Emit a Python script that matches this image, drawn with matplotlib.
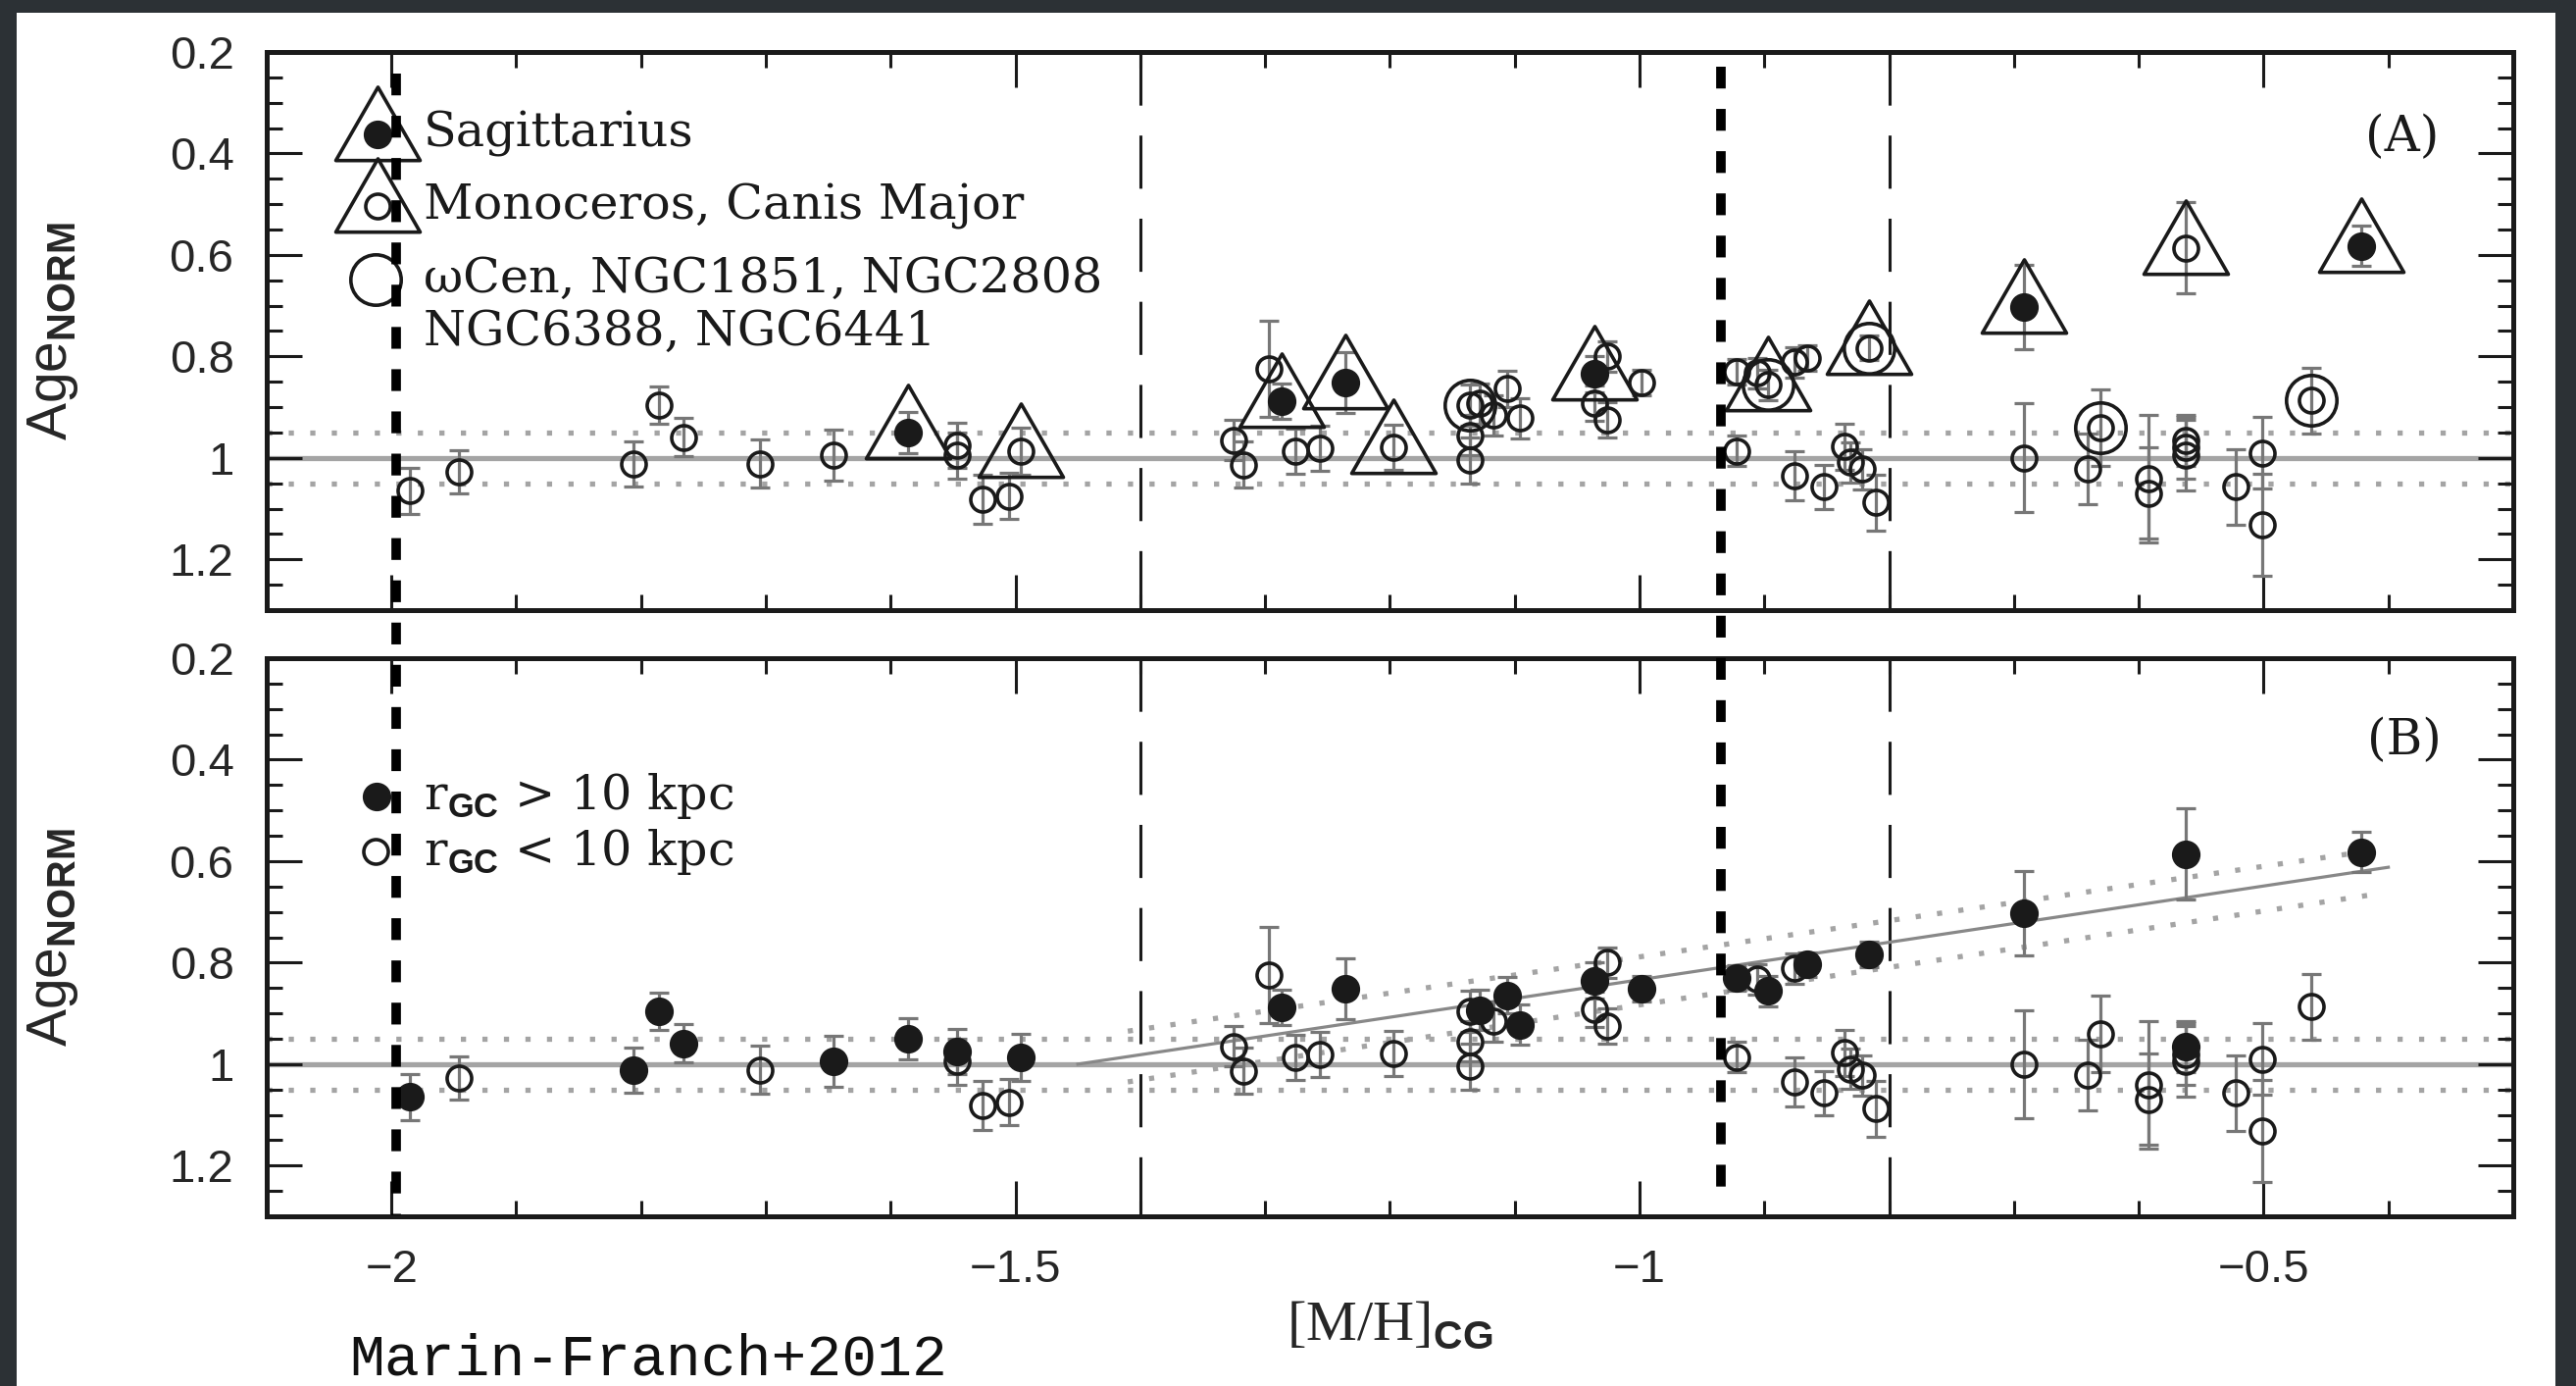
import matplotlib
matplotlib.use('Agg')
import matplotlib.pyplot as plt
import matplotlib.transforms as mtransforms
from matplotlib.path import Path
from matplotlib.patches import Rectangle
from matplotlib.lines import Line2D
import numpy as np

plt.rcParams['font.family'] = 'Liberation Sans'
plt.rcParams['mathtext.fontset'] = 'custom'
plt.rcParams['mathtext.sf'] = 'Liberation Sans:bold'
plt.rcParams['mathtext.rm'] = 'DejaVu Serif'
plt.rcParams['lines.scale_dashes'] = False

# globular clusters: metallicity, normalised age, age error
mh = [-1.985, -1.946, -1.806, -1.786, -1.766, -1.705, -1.646, -1.586, -1.547, -1.547, -1.526, -1.505, -1.496,
      -1.325, -1.317, -1.297, -1.287, -1.276, -1.256, -1.236, -1.197,
      -1.136, -1.136, -1.136, -1.128, -1.117, -1.106, -1.096,
      -1.036, -1.026, -1.036, -1.026, -0.998,
      -0.922, -0.922, -0.906, -0.897, -0.876, -0.866, -0.816,
      -0.876, -0.852, -0.836, -0.831, -0.822, -0.811,
      -0.692, -0.692, -0.641, -0.631, -0.592, -0.592, -0.562, -0.562, -0.562, -0.562,
      -0.522, -0.501, -0.501, -0.462, -0.422]
age = [1.065, 1.027, 1.012, 0.896, 0.959, 1.011, 0.995, 0.950, 0.975, 0.995, 1.081, 1.075, 0.987,
       0.965, 1.013, 0.825, 0.888, 0.987, 0.981, 0.851, 0.979,
       0.896, 0.955, 1.005, 0.893, 0.916, 0.864, 0.922,
       0.835, 0.800, 0.892, 0.925, 0.851,
       0.830, 0.986, 0.833, 0.856, 0.811, 0.804, 0.783,
       1.035, 1.057, 0.978, 1.009, 1.022, 1.088,
       0.703, 1.000, 1.022, 0.940, 1.041, 1.069, 0.586, 0.965, 0.980, 0.995,
       1.057, 0.990, 1.132, 0.887, 0.582]
err = [0.045, 0.042, 0.045, 0.037, 0.038, 0.047, 0.050, 0.040, 0.045, 0.045, 0.048, 0.046, 0.047,
       0.040, 0.045, 0.095, 0.035, 0.045, 0.045, 0.060, 0.045,
       0.040, 0.040, 0.045, 0.040, 0.040, 0.035, 0.040,
       0.035, 0.030, 0.035, 0.035, 0.025,
       0.025, 0.030, 0.030, 0.030, 0.030, 0.025, 0.025,
       0.049, 0.044, 0.045, 0.040, 0.040, 0.055,
       0.083, 0.107, 0.070, 0.075, 0.125, 0.090, 0.090, 0.050, 0.060, 0.070,
       0.074, 0.070, 0.100, 0.065, 0.040]
# 1 -> r_GC > 10 kpc
outer = [1, 0, 1, 1, 1, 0, 1, 1, 1, 0, 0, 0, 1,
         0, 0, 0, 1, 0, 0, 1, 0,
         0, 0, 0, 1, 0, 1, 1,
         1, 0, 0, 0, 1,
         1, 0, 0, 1, 0, 1, 1,
         0, 0, 0, 0, 0, 0,
         1, 0, 0, 0, 0, 0, 1, 1, 0, 0,
         0, 0, 0, 0, 1]
# '' normal, sgr = Sagittarius, mon = Monoceros/CMa, mp = multiple populations
group = ['', '', '', '', '', '', '', 'sgr', '', '', '', '', 'mon',
         '', '', '', 'sgr', '', '', 'sgr', 'mon',
         'mp', '', '', '', '', '', '',
         'sgr', '', '', '', '',
         '', '', '', 'monmp', '', '', 'monmp',
         '', '', '', '', '', '',
         'sgr', '', '', 'mp', '', '', 'mon', '', '', '',
         '', '', '', 'mp', 'sgr']

# age-metallicity relation of the young branch
fit_x = [-1.45, -0.40]
fit_y = [1.0, 0.612]
fit_up = [0.935, 0.578]
fit_lo = [1.035, 0.665]
fit_band_x = [-1.41, -0.41]

xmajor = [-2, -1.5, -1, -0.5]
xlabels = ['\u22122', '\u22121.5', '\u22121', '\u22120.5']
ymajor = [0.2, 0.4, 0.6, 0.8, 1.0, 1.2]
ylabels = ['0.2', '0.4', '0.6', '0.8', '1', '1.2']
vdash_x = [-1.4, -0.8]
overlay_x = [-1.996, -0.935]

mh = np.array(mh)
age = np.array(age)
err = np.array(err)
outer = np.array(outer, dtype=bool)
group = np.array(group)

tri = Path([(0, 1.3), (-1.15, -0.7), (1.15, -0.7), (0, 1.3)],
           [Path.MOVETO, Path.LINETO, Path.LINETO, Path.CLOSEPOLY])

fig = plt.figure(figsize=(26.27, 14.13), dpi=100, facecolor='#2c3135')
fig.patches.append(Rectangle((17 / 2627, 0), (2606 - 17) / 2627, 1 - 13 / 1413,
                             transform=fig.transFigure, facecolor='white',
                             edgecolor='none', zorder=-5))

ax_top = fig.add_axes([0.1035, 0.5598, 0.8721, 0.4027])
ax_bot = fig.add_axes([0.1035, 0.1224, 0.8721, 0.4027])

dark = '#1a1a1a'
gray = '#a4a4a4'
ms_open, ms_fill, ms_tri, ms_big = 18, 20, 70, 37


def style(ax, show_x):
    ax.set_facecolor('none')
    ax.set_xlim(-2.1, -0.3)
    ax.set_ylim(1.3, 0.2)
    ax.set_xticks(xmajor, xlabels if show_x else [''] * 4)
    ax.set_xticks(np.round(np.arange(-2.1, -0.29, 0.1), 2), minor=True)
    ax.set_yticks(ymajor, ylabels)
    ax.set_yticks(np.round(np.arange(0.2, 1.31, 0.05), 2), minor=True)
    ax.tick_params(which='both', direction='in', top=True, right=True,
                   width=2.2, color=dark, labelcolor='#262626', labelsize=34)
    ax.tick_params(which='major', length=26, pad=24)
    ax.tick_params(which='minor', length=11.5)
    for s in ax.spines.values():
        s.set_linewidth(3.6)
        s.set_color(dark)
    ax.axhline(1.0, color=gray, lw=3.8, zorder=1)
    for yv in (0.95, 1.05):
        ax.axhline(yv, color=gray, lw=3.8, dashes=(3.8, 12), zorder=1)
    for xv in vdash_x:
        ax.plot([xv, xv], [0.2, 1.3], color=dark, lw=2.2, dashes=(39, 22), zorder=1)
    ax.errorbar(mh, age, yerr=err, fmt='none', ecolor='#777777', elinewidth=2.3,
                capsize=7, capthick=2.3, zorder=2)
    ax.text(-0.095, 0.5, r'Age$_{\mathsf{NORM}}$', transform=ax.transAxes, rotation=90,
            ha='center', va='center', fontsize=41, color='#262626')


style(ax_top, False)
style(ax_bot, True)

# --- panel A ---
plain = group != 'sgr'
ax_top.plot(mh[plain], age[plain], 'o', ms=ms_open, mfc='none', mec=dark, mew=2.6, zorder=3)
sgr = group == 'sgr'
ax_top.plot(mh[sgr], age[sgr], 'o', ms=ms_fill, mfc=dark, mec=dark, zorder=3)
trig = np.isin(group, ['sgr', 'mon', 'monmp'])
ax_top.plot(mh[trig], age[trig], marker=tri, ls='none', ms=ms_tri, mfc='none', mec=dark,
            mew=2.6, zorder=4)
mp = np.isin(group, ['mp', 'monmp'])
ax_top.plot(mh[mp], age[mp], 'o', ms=ms_big, mfc='none', mec=dark, mew=2.6, zorder=4)

# legend of panel A
leg_x = -2.011
leg_tx = -1.974
ax_top.plot(leg_x, 0.3615, marker=tri, ms=ms_tri, mfc='none', mec=dark, mew=2.6)
ax_top.plot(leg_x, 0.3615, 'o', ms=ms_fill, mfc=dark, mec=dark)
ax_top.plot(leg_x, 0.504, marker=tri, ms=ms_tri, mfc='none', mec=dark, mew=2.6)
ax_top.plot(leg_x, 0.504, 'o', ms=ms_open, mfc='none', mec=dark, mew=2.6)
ax_top.plot(-2.013, 0.648, 'o', ms=ms_big, mfc='none', mec=dark, mew=2.6)
serif = dict(family='DejaVu Serif', fontsize=35.5, color='#1a1a1a', va='center', ha='left')
ax_top.text(leg_tx, 0.3615, 'Sagittarius', **serif)
ax_top.text(leg_tx, 0.504, 'Monoceros, Canis Major', **serif)
ax_top.text(leg_tx, 0.648, '\u03c9Cen, NGC1851, NGC2808', **serif)
ax_top.text(leg_tx, 0.752, 'NGC6388, NGC6441', **serif)
ax_top.text(-0.389, 0.369, '(A)', family='DejaVu Serif', fontsize=36, color='#1a1a1a',
            ha='center', va='center')

# --- panel B ---
ax_bot.plot(mh[~outer], age[~outer], 'o', ms=ms_open, mfc='none', mec=dark, mew=2.6, zorder=3)
ax_bot.plot(mh[outer], age[outer], 'o', ms=ms_fill, mfc=dark, mec=dark, zorder=3)
ax_bot.plot(fit_x, fit_y, color='#888888', lw=2.3, zorder=1)
ax_bot.plot(fit_band_x, fit_up, color=gray, lw=3.8, dashes=(3.8, 12), zorder=1)
ax_bot.plot(fit_band_x, fit_lo, color=gray, lw=3.8, dashes=(3.8, 12), zorder=1)

ax_bot.plot(-2.012, 0.472, 'o', ms=ms_fill, mfc=dark, mec=dark)
ax_bot.plot(-2.013, 0.581, 'o', ms=ms_open, mfc='none', mec=dark, mew=2.6)
ax_bot.text(leg_tx, 0.472, r'r$_{\mathsf{GC}}$ > 10 kpc', **serif)
ax_bot.text(leg_tx, 0.581, r'r$_{\mathsf{GC}}$ < 10 kpc', **serif)
ax_bot.text(-0.387, 0.363, '(B)', family='DejaVu Serif', fontsize=36, color='#1a1a1a',
            ha='center', va='center')

ax_bot.text(0.5, -0.195, r'[M/H]$_{\mathsf{CG}}$', transform=ax_bot.transAxes,
            family='Liberation Serif', fontsize=42, color='#262626', ha='center', va='center')

# thick dashed markers added on the slide
trans = mtransforms.blended_transform_factory(ax_top.transData, fig.transFigure)
for xv, (y0, y1) in zip(overlay_x, [(0.947, 0.123), (0.952, 0.130)]):
    fig.add_artist(Line2D([xv, xv], [y0, y1], transform=trans, color='black', lw=7,
                          dashes=(16, 15), dash_capstyle='butt', zorder=10))

fig.text(356 / 2627, 1 - 1402 / 1413, 'Marin-Franch+2012', family='Liberation Mono',
         fontsize=43, color='#111111', ha='left', va='baseline')

fig.savefig('out.png', dpi=100, facecolor=fig.get_facecolor())
